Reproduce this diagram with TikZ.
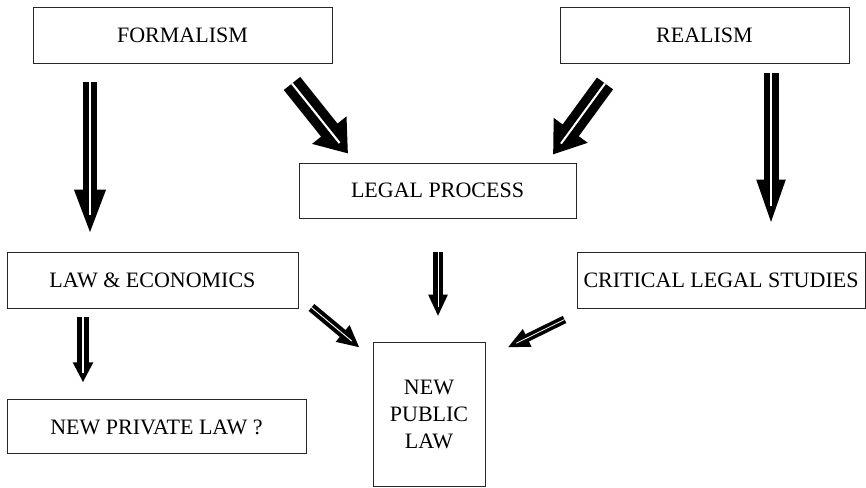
\documentclass[tikz,border=0pt]{standalone}
\usepackage{fontspec}
\setmainfont{Liberation Serif}
\usepackage{tikz}
\usetikzlibrary{positioning,arrows.meta}

\tikzset{
  box/.style={draw=black!85, line width=0.9pt, minimum height=56pt, inner sep=0pt, font=\fontsize{22}{27}\selectfont},
  dbl/.style n args={3}{draw=black, line width=#1, -{Triangle[length=#2, width=#3]},
    postaction={draw=white, line width=0.1*#1, -, shorten >=0.45*#2}}
}

\begin{document}
\begin{tikzpicture}[x=1pt, y=-1pt]
\useasboundingbox (0,0) rectangle (866,487);

\node [box, minimum width=299pt] (form) at (182.5,35) {FORMALISM}; \node [box, minimum width=289pt] (real) at (704.5,35) {REALISM};
\node [box, minimum width=277pt, minimum height=55pt] (legal) at (437.5,190.5) {LEGAL PROCESS};
\node [box, minimum width=291pt] (law) at (152.5,280) {LAW \& ECONOMICS}; \node [box, minimum width=288pt] (cls) at (721,280) {CRITICAL LEGAL STUDIES};
\node [box, minimum width=299pt, minimum height=54pt, below=91pt of law.south west, anchor=north west] (priv) {NEW PRIVATE LAW ?};
\node [box, minimum width=112pt, minimum height=144pt, align=center] (pub) at (429,414) {NEW\\PUBLIC\\LAW};

% top row to the middle row
\draw [dbl={14pt}{46pt}{28pt}] ([xshift=-92.5pt, yshift=-19pt]form.south) -- ([xshift=-62.5pt, yshift=16pt]law.north);
\draw [dbl={21pt}{30pt}{42pt}] ([xshift=109.5pt, yshift=-20pt]form.south) -- ([xshift=-89.5pt, yshift=9pt]legal.north);
\draw [dbl={20pt}{30pt}{40pt}] ([xshift=-99.5pt, yshift=-20pt]real.south) -- ([xshift=115.5pt, yshift=8pt]legal.north);
\draw [dbl={15pt}{48pt}{25pt}] ([xshift=66.5pt, yshift=-10pt]real.south) -- ([xshift=50pt, yshift=24pt]cls.north);

% into the new public law
\draw [dbl={10pt}{22pt}{18pt}] ([xshift=0.5pt, yshift=-34pt]legal.south) -- ([xshift=9pt, yshift=25pt]pub.north);
\draw [dbl={9pt}{22pt}{20pt}] ([xshift=13pt, yshift=1pt]law.south east) -- ([xshift=-13pt, yshift=-6pt]pub.north west);
\draw [dbl={8pt}{22pt}{18pt}] ([xshift=-12pt, yshift=-11pt]cls.south west) -- ([xshift=22pt, yshift=-6pt]pub.north east);

\draw [dbl={12pt}{20pt}{19pt}] ([xshift=-69.5pt, yshift=-9pt]law.south) -- ([xshift=-73.5pt, yshift=17pt]priv.north);
\end{tikzpicture}
\end{document}
